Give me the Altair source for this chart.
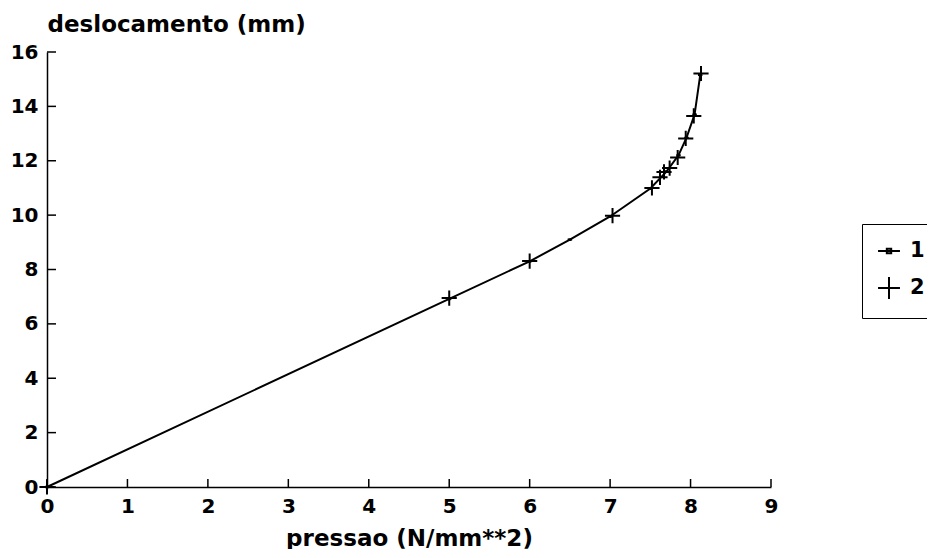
import altair as alt
import pandas as pd

# series 1: line with small dot markers
s1_x = [0, 5, 6, 6.5, 7, 7.5, 7.7, 7.85, 7.95, 8.05, 8.12]
s1_y = [0, 6.92, 8.3, 9.1, 9.95, 10.98, 11.6, 12.2, 12.85, 13.7, 15.15]
# series 2: cross markers
s2_x = [0, 5, 6, 7.03, 7.52, 7.62, 7.67, 7.74, 7.84, 7.94, 8.04, 8.13]
s2_y = [0, 6.95, 8.31, 9.98, 11.0, 11.39, 11.59, 11.73, 12.12, 12.82, 13.65, 15.21]

x_ticks = [0, 1, 2, 3, 4, 5, 6, 7, 8, 9]
y_ticks = [0, 2, 4, 6, 8, 10, 12, 14, 16]

W, H = 724, 435
FONT = "DejaVu Sans"

df1 = pd.DataFrame({"x": s1_x, "y": s1_y, "serie": "1"})
df2 = pd.DataFrame({"x": s2_x, "y": s2_y, "serie": "2"})
pts = pd.concat([df1, df2], ignore_index=True)

xs = alt.Scale(domain=[0, 9], nice=False, zero=False)
ys = alt.Scale(domain=[0, 16], nice=False, zero=False)

xaxis = alt.Axis(values=x_ticks, ticks=False, grid=False, labelFlush=False, format="d",
                 title="pressao (N/mm**2)", titleY=58, titleBaseline="alphabetic",
                 labelPadding=9)
yaxis = alt.Axis(values=y_ticks, ticks=False, grid=False, labelFlush=False, format="d",
                 title="deslocamento (mm)", titleAngle=0, titleAlign="left",
                 titleX=0, titleY=-21, titleBaseline="alphabetic", labelPadding=9)

line = alt.Chart(df1).mark_line(color="black", strokeWidth=2).encode(
    x=alt.X("x:Q", scale=xs, axis=xaxis),
    y=alt.Y("y:Q", scale=ys, axis=yaxis),
)

shape_paths = [
    "M-1,0H1M-0.2,-0.2H0.2V0.2H-0.2Z",
    "M-1,0H1M0,-1V1",
]

marks = alt.Chart(pts).mark_point(filled=False, color="black", strokeWidth=2, opacity=1).encode(
    x=alt.X("x:Q", scale=xs),
    y=alt.Y("y:Q", scale=ys),
    shape=alt.Shape("serie:N", scale=alt.Scale(domain=["1", "2"], range=shape_paths),
                    legend=alt.Legend(title=None, orient="none", legendX=815, legendY=172,
                                      strokeColor="black", padding=15, symbolSize=480,
                                      symbolStrokeWidth=2, symbolStrokeColor="black",
                                      symbolFillColor="black",
                                      labelFont=FONT, labelFontSize=21, labelFontWeight="bold",
                                      labelColor="black", rowPadding=12, labelOffset=9)),
    size=alt.condition(alt.datum.serie == "1", alt.value(20), alt.value(230)),
)

xt = alt.Chart(pd.DataFrame({"v": x_ticks})).mark_rule(color="black", strokeWidth=1.5).encode(
    x=alt.X("v:Q", scale=xs), y=alt.value(H), y2=alt.value(H - 8))
yt = alt.Chart(pd.DataFrame({"v": y_ticks})).mark_rule(color="black", strokeWidth=1.5).encode(
    y=alt.Y("v:Q", scale=ys), x=alt.value(0), x2=alt.value(9))

chart = alt.layer(line, marks, xt, yt).properties(
    width=W, height=H,
    autosize=alt.AutoSizeParams(type="none"),
    padding={"left": 39, "top": 44, "right": 156, "bottom": 62},
).configure_view(stroke=None).configure_axis(
    domainColor="black", domainWidth=1.5,
    labelFont=FONT, labelFontSize=20, labelFontWeight="bold", labelColor="black",
    titleFont=FONT, titleFontSize=23, titleFontWeight="bold", titleColor="black",
)

chart.save("out.html", embed_options={"renderer": "svg", "actions": False})
